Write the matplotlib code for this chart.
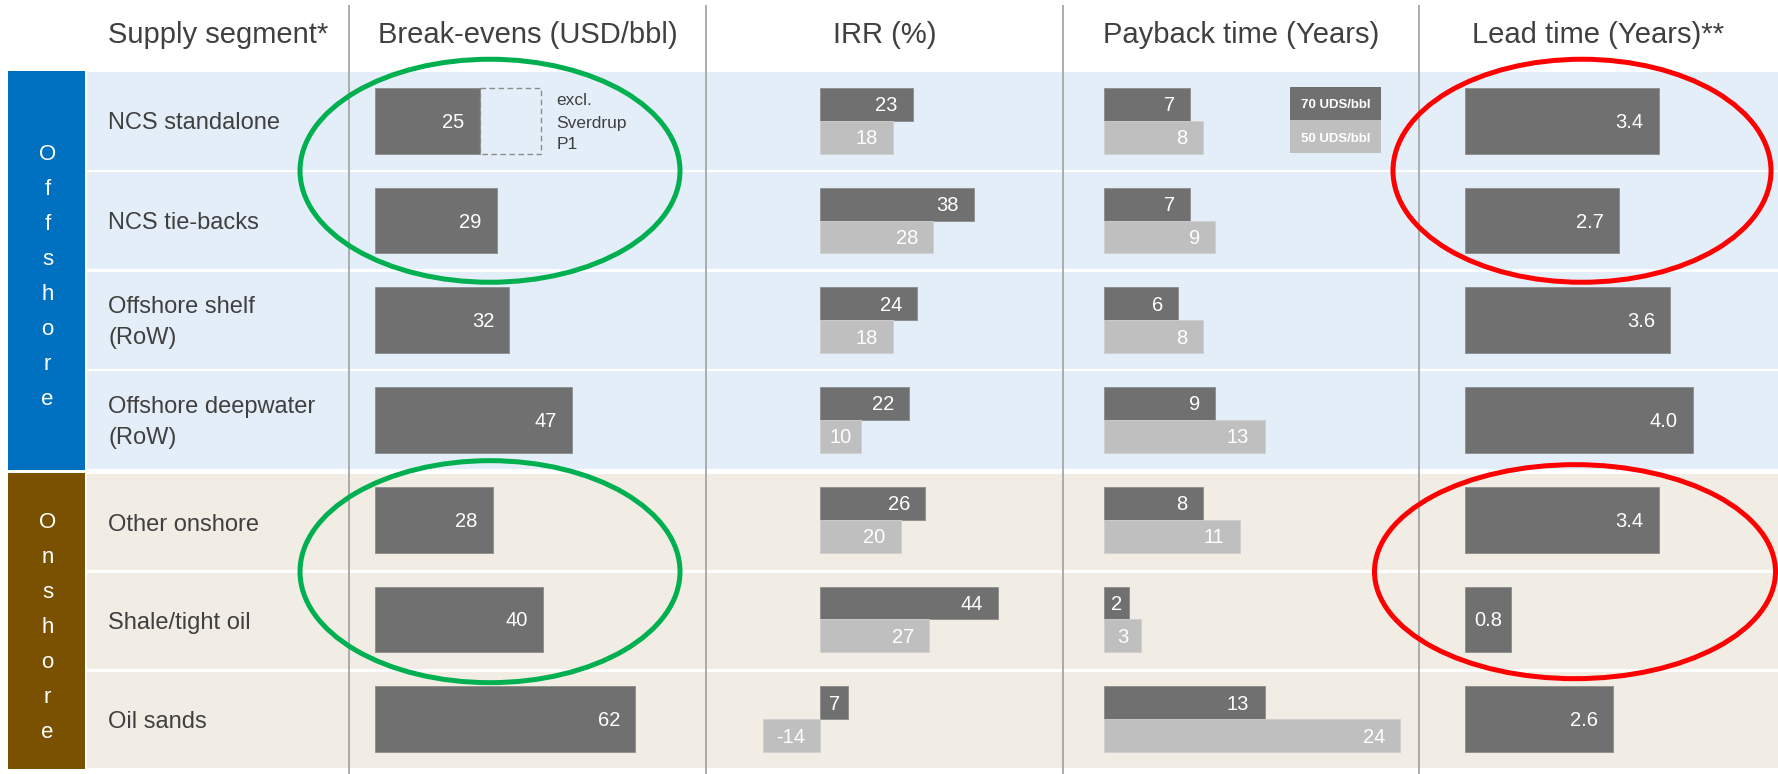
import matplotlib
matplotlib.use("Agg")
import matplotlib.pyplot as plt
from matplotlib.patches import Rectangle, Ellipse

plt.rcParams['font.family'] = ['Liberation Sans', 'DejaVu Sans']

# ---------------- data ----------------
headers = ["Supply segment*", "Break-evens (USD/bbl)", "IRR (%)",
           "Payback time (Years)", "Lead time (Years)**"]
segments = ["NCS standalone", "NCS tie-backs", "Offshore shelf\n(RoW)",
            "Offshore deepwater\n(RoW)", "Other onshore", "Shale/tight oil", "Oil sands"]
groups = ["Offshore", "Onshore"]
group_sizes = [4, 3]
break_evens = [25, 29, 32, 47, 28, 40, 62]
breakeven_incl_sverdrup = 39.5
sverdrup_note = ["excl.", "Sverdrup", "P1"]
irr_70 = [23, 38, 24, 22, 26, 44, 7]
irr_50 = [18, 28, 18, 10, 20, 27, -14]
payback_70 = [7, 7, 6, 9, 8, 2, 13]
payback_50 = [8, 9, 8, 13, 11, 3, 24]
lead_time = [3.4, 2.7, 3.6, 4.0, 3.4, 0.8, 2.6]
legend_labels = ["70 UDS/bbl", "50 UDS/bbl"]

# ---------------- style / layout ----------------
W, H = 1778, 774
DARK, LIGHT = "#707070", "#BFBFBF"
TXT = "#404040"
GROUP_COL = ["#0070C0", "#7A5100"]
GROUP_BG = ["#E4EEF8", "#F1ECE4"]
GROUP_EXT = [(71, 470), (473, 769)]
BAND_X = (8, 85)
LABEL_X = 108
COL_BOUNDS = [349, 706, 1063, 1419, 1778]
ZERO_PX = [375, 820, 1104, 1465]
PX_PER_UNIT = [4.2, 4.05, 12.35, 57.0]
TOP, BOT = 71, 769
n = len(segments)

fig = plt.figure(figsize=(W / 100, H / 100), dpi=100)
fig.patch.set_facecolor("white")
bg = fig.add_axes([0, 0, 1, 1])
bg.set_xlim(0, W)
bg.set_ylim(H, 0)
bg.axis("off")

# row backgrounds & group bands
row_centers_px = []
for g, (gname, size) in enumerate(zip(groups, group_sizes)):
    gt, gb = GROUP_EXT[g]
    bg.add_patch(Rectangle((BAND_X[0], gt), BAND_X[1] - BAND_X[0], gb - gt,
                           color=GROUP_COL[g], lw=0))
    rh = (gb - gt) / size
    for r in range(size):
        t = gt + r * rh
        bg.add_patch(Rectangle((BAND_X[1] + 1.5, t + 1.2), W - BAND_X[1], rh - 2.4,
                               color=GROUP_BG[g], lw=0))
        row_centers_px.append(t + rh / 2)
    # vertical letters
    gc = (gt + gb) / 2
    step = 35
    first = gc - (len(gname) - 1) / 2 * step + 12
    for k, ch in enumerate(gname):
        bg.text((BAND_X[0] + BAND_X[1]) / 2 + 1, first + k * step, ch, color="white",
                fontsize=16, ha="center", va="baseline")

# row labels
for lab, yc in zip(segments, row_centers_px):
    lines = lab.split("\n")
    if len(lines) == 1:
        bg.text(LABEL_X, yc + 8.5, lines[0], fontsize=17, color=TXT, ha="left", va="baseline")
    else:
        bg.text(LABEL_X, yc - 7, lines[0], fontsize=17, color=TXT, ha="left", va="baseline")
        bg.text(LABEL_X, yc + 24, lines[1], fontsize=17, color=TXT, ha="left", va="baseline")

# headers
hdr_x = [LABEL_X] + [(COL_BOUNDS[i] + COL_BOUNDS[i + 1]) / 2 for i in range(4)]
for i, (h, x) in enumerate(zip(headers, hdr_x)):
    bg.text(x, 43, h, fontsize=21, color=TXT, ha="left" if i == 0 else "center",
            va="baseline")

# dividers
for x in COL_BOUNDS[:-1]:
    bg.plot([x, x], [5, H], color="#A6A6A6", lw=1.3, solid_capstyle="butt")

# legend (payback column)
lg_x, lg_w, lg_t, lg_h = 1290, 91, 87, 33
for k, (lab, col) in enumerate(zip(legend_labels, [DARK, LIGHT])):
    bg.add_patch(Rectangle((lg_x, lg_t + k * lg_h), lg_w, lg_h, color=col, lw=0))
    bg.text(lg_x + lg_w / 2, lg_t + k * lg_h + lg_h / 2 + 5, lab, color="white",
            fontsize=9.5, fontweight="bold", ha="center", va="baseline")

# ---------------- metric axes ----------------
def make_axes(c):
    x0, x1 = COL_BOUNDS[c], COL_BOUNDS[c + 1]
    ax = fig.add_axes([x0 / W, 1 - BOT / H, (x1 - x0) / W, (BOT - TOP) / H])
    z, s = ZERO_PX[c], PX_PER_UNIT[c]
    ax.set_xlim((x0 - z) / s, (x1 - z) / s)
    ax.set_ylim(n - 0.5, -0.5)
    ax.axis("off")
    ax.patch.set_alpha(0)
    return ax


def label_bars(ax, ys, vals, scale, fmt):
    for y, v in zip(ys, vals):
        txt = fmt.format(v)
        if abs(v) * scale < 50:
            ax.annotate(txt, xy=(v / 2, y), xytext=(0, -5), textcoords="offset points",
                        ha="center", va="baseline", color="white", fontsize=14.5)
        else:
            ax.annotate(txt, xy=(max(v, 0), y), xytext=(-11, -5), textcoords="offset points",
                        ha="right", va="baseline", color="white", fontsize=14.5)


ys = list(range(n))
BH = 0.66

# Break-evens
ax1 = make_axes(0)
ax1.barh(ys, break_evens, height=BH, color=DARK, edgecolor="#8C8C8C", lw=0.6)
label_bars(ax1, ys, break_evens, PX_PER_UNIT[0], "{:d}")
ax1.add_patch(Rectangle((break_evens[0], -BH / 2), breakeven_incl_sverdrup - break_evens[0], BH,
                        fill=False, ls=(0, (4, 2.5)), ec="#8C8C8C", lw=1.0))
for k, (line, dy) in enumerate(zip(sverdrup_note, [11.5, -5.0, -20.0])):
    ax1.annotate(line, xy=(breakeven_incl_sverdrup, 0), xytext=(11, dy),
                 textcoords="offset points", ha="left", va="baseline", color=TXT, fontsize=12.5)

# IRR
ax2 = make_axes(1)
y70 = [y - BH / 4 for y in ys]
y50 = [y + BH / 4 for y in ys]
ax2.barh(y70, irr_70, height=BH / 2, color=DARK, edgecolor="#8C8C8C", lw=0.6)
ax2.barh(y50, irr_50, height=BH / 2, color=LIGHT, edgecolor="#CFCFCF", lw=0.6)
label_bars(ax2, y70, irr_70, PX_PER_UNIT[1], "{:d}")
label_bars(ax2, y50, irr_50, PX_PER_UNIT[1], "{:d}")

# Payback
ax3 = make_axes(2)
ax3.barh(y70, payback_70, height=BH / 2, color=DARK, edgecolor="#8C8C8C", lw=0.6)
ax3.barh(y50, payback_50, height=BH / 2, color=LIGHT, edgecolor="#CFCFCF", lw=0.6)
label_bars(ax3, y70, payback_70, PX_PER_UNIT[2], "{:d}")
label_bars(ax3, y50, payback_50, PX_PER_UNIT[2], "{:d}")

# Lead time
ax4 = make_axes(3)
ax4.barh(ys, lead_time, height=BH, color=DARK, edgecolor="#8C8C8C", lw=0.6)
label_bars(ax4, ys, lead_time, PX_PER_UNIT[3], "{:.1f}")

# ---------------- highlight ellipses ----------------
ov = fig.add_axes([0, 0, 1, 1])
ov.set_xlim(0, W)
ov.set_ylim(H, 0)
ov.axis("off")
ov.patch.set_alpha(0)
highlights = [  # (centre x, boundary between rows, width, height, colour)
    (490, 0, 380, 223, "#00B050"),
    (490, 4, 380, 222, "#00B050"),
    (1582, 0, 378, 223, "#FF0000"),
    (1575, 4, 401, 214, "#FF0000"),
]
for cx, r, w, h, col in highlights:
    cy = (row_centers_px[r] + row_centers_px[r + 1]) / 2
    ov.add_patch(Ellipse((cx, cy), w, h, fill=False, ec=col, lw=3.6))

fig.savefig("out.png", dpi=100)
